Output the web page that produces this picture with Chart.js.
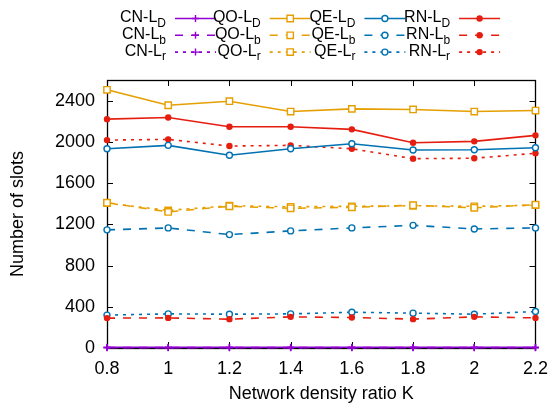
<!DOCTYPE html>
<html>
<head>
<meta charset="utf-8">
<script src="https://cdn.jsdelivr.net/npm/chart.js@4.4.1/dist/chart.umd.min.js"></script>
<style>
  body { margin: 0; background: #fff; }
  #wrap { width: 558px; height: 405px; }
</style>
</head>
<body>
<div id="wrap"><canvas id="slotsChart" width="558" height="405"></canvas></div>
<script>
// network density ratio K
const densityK = [0.8, 1, 1.2, 1.4, 1.6, 1.8, 2, 2.2];
const xTicks = [0.8, 1, 1.2, 1.4, 1.6, 1.8, 2, 2.2];
const yTicks = [0, 400, 800, 1200, 1600, 2000, 2400];

// number of slots, per algorithm and per L type
const cnLD = [8, 8, 8, 8, 8, 8, 8, 8];
const qoLD = [2505, 2355, 2394, 2294, 2320, 2314, 2294, 2304];
const qeLD = [1933, 1966, 1870, 1933, 1982, 1921, 1924, 1943];
const rnLD = [2220, 2236, 2146, 2146, 2121, 1991, 2005, 2063];

const cnLb = [4, 4, 4, 4, 4, 4, 4, 4];
const qoLb = [1410, 1320, 1375, 1355, 1365, 1385, 1360, 1390];
const qeLb = [1146, 1165, 1100, 1136, 1165, 1190, 1155, 1165];
const rnLb = [290, 292, 280, 302, 296, 280, 302, 292];

const cnLr = [3, 3, 3, 3, 3, 3, 3, 3];
const qoLr = [1405, 1335, 1380, 1370, 1375, 1380, 1375, 1385];
const qeLr = [319, 331, 328, 331, 347, 338, 328, 354];
const rnLr = [2017, 2024, 1959, 1966, 1933, 1837, 1841, 1889];

const algos = ['CN', 'QO', 'QE', 'RN'];
const kinds = ['D', 'b', 'r'];
const colors = { CN: '#9400d3', QO: '#e69f00', QE: '#0072b2', RN: '#e51e10' };
const dashes = { D: [], b: [8, 8], r: [3, 5] };
const seriesData = {
  CN: { D: cnLD, b: cnLb, r: cnLr },
  QO: { D: qoLD, b: qoLb, r: qoLr },
  QE: { D: qeLD, b: qeLb, r: qeLr },
  RN: { D: rnLD, b: rnLb, r: rnLr }
};

const pointLook = {
  CN: { style: 'cross', radius: 3.5, fill: '#9400d3' },
  QO: { style: 'rect', radius: 4.5, fill: '#fff' },
  QE: { style: 'circle', radius: 3, fill: '#fff' },
  RN: { style: 'circle', radius: 2.5, fill: '#e51e10' }
};

const datasets = [];
kinds.forEach(kind => {
  algos.forEach(algo => {
    const look = pointLook[algo];
    datasets.push({
      label: algo + '-L' + kind,
      algo: algo,
      kind: kind,
      data: densityK.map((k, i) => ({ x: k, y: seriesData[algo][kind][i] })),
      borderColor: colors[algo],
      backgroundColor: look.fill,
      borderWidth: 1.6,
      borderDash: dashes[kind],
      pointStyle: look.style,
      pointRadius: look.radius,
      pointBorderWidth: 1.4,
      pointBorderColor: colors[algo],
      pointBackgroundColor: look.fill,
      tension: 0,
      clip: false
    });
  });
});

// gnuplot like frame with inward ticks
const framePlugin = {
  id: 'frame',
  beforeDatasetsDraw(chart) {
    const { ctx, chartArea: a, scales } = chart;
    ctx.save();
    ctx.strokeStyle = '#000';
    ctx.lineWidth = 1;
    ctx.beginPath();
    xTicks.forEach(v => {
      const px = Math.round(scales.x.getPixelForValue(v)) + 0.5;
      ctx.moveTo(px, a.bottom); ctx.lineTo(px, a.bottom - 6);
      ctx.moveTo(px, a.top); ctx.lineTo(px, a.top + 6);
    });
    yTicks.forEach(v => {
      const py = Math.round(scales.y.getPixelForValue(v)) + 0.5;
      ctx.moveTo(a.left, py); ctx.lineTo(a.left + 6, py);
      ctx.moveTo(a.right, py); ctx.lineTo(a.right - 6, py);
    });
    ctx.stroke();
    ctx.lineWidth = 1.3;
    ctx.strokeRect(Math.round(a.left) + 0.5, Math.round(a.top) + 0.5,
      Math.round(a.right - a.left), Math.round(a.bottom - a.top));
    ctx.restore();
  }
};

const drawMarker = (ctx, algo, x, y) => {
  const look = pointLook[algo];
  ctx.save();
  ctx.setLineDash([]);
  ctx.strokeStyle = colors[algo];
  ctx.fillStyle = look.fill;
  ctx.lineWidth = 1.4;
  ctx.beginPath();
  if (look.style === 'cross') {
    ctx.moveTo(x - look.radius, y); ctx.lineTo(x + look.radius, y);
    ctx.moveTo(x, y - look.radius); ctx.lineTo(x, y + look.radius);
    ctx.stroke();
  } else if (look.style === 'rect') {
    const s = look.radius * Math.SQRT1_2;
    ctx.rect(x - s, y - s, 2 * s, 2 * s);
    ctx.fill(); ctx.stroke();
  } else {
    ctx.arc(x, y, look.radius, 0, Math.PI * 2);
    ctx.fill(); ctx.stroke();
  }
  ctx.restore();
};

// legend: text then line sample, 4 columns x 3 rows
const legendPlugin = {
  id: 'keyBox',
  afterDraw(chart) {
    const ctx = chart.ctx;
    ctx.save();
    chart.data.datasets.forEach((ds, i) => {
      const col = i % 4;
      const row = Math.floor(i / 4);
      const right = 166 + col * 94.7;
      const y = 18.5 + row * 16.8;
      const base = ds.algo + '-L';
      ctx.font = '12px "Liberation Sans", Arial, sans-serif';
      const subW = ctx.measureText(ds.kind).width;
      ctx.font = '16px "Liberation Sans", Arial, sans-serif';
      ctx.fillStyle = '#000';
      ctx.textBaseline = 'middle';
      ctx.textAlign = 'right';
      ctx.fillText(base, right - subW, y - 1);
      ctx.font = '12px "Liberation Sans", Arial, sans-serif';
      ctx.textAlign = 'left';
      ctx.fillText(ds.kind, right - subW, y + 5);

      const x0 = right + 9;
      const x1 = x0 + 41;
      ctx.strokeStyle = ds.borderColor;
      ctx.lineWidth = 1.6;
      ctx.setLineDash(ds.borderDash);
      ctx.beginPath();
      ctx.moveTo(x0, y); ctx.lineTo(x1, y);
      ctx.stroke();
      drawMarker(ctx, ds.algo, (x0 + x1) / 2, y);
    });
    ctx.restore();
  }
};

const tickFont = { family: '"Liberation Sans", Arial, sans-serif', size: 18 };

new Chart(document.getElementById('slotsChart'), {
  type: 'line',
  data: { datasets: datasets },
  plugins: [framePlugin, legendPlugin],
  options: {
    responsive: false,
    animation: false,
    layout: { padding: { top: 80, right: 15, left: 0, bottom: 0 } },
    plugins: { legend: { display: false }, tooltip: { enabled: false } },
    scales: {
      x: {
        type: 'linear',
        min: 0.8,
        max: 2.2,
        afterBuildTicks: scale => { scale.ticks = xTicks.map(v => ({ value: v })); },
        afterFit: scale => { scale.height = 57; },
        grid: { display: false, drawTicks: false },
        border: { display: false },
        ticks: {
          color: '#000',
          font: tickFont,
          padding: 10,
          maxRotation: 0,
          autoSkip: false,
          callback: v => String(v)
        },
        title: {
          display: true,
          text: 'Network density ratio K',
          color: '#000',
          font: tickFont,
          padding: { top: 12, bottom: 0 }
        }
      },
      y: {
        type: 'linear',
        min: 0,
        max: 2600,
        afterBuildTicks: scale => { scale.ticks = yTicks.map(v => ({ value: v })); },
        afterFit: scale => { scale.width = 107; },
        grid: { display: false, drawTicks: false },
        border: { display: false },
        ticks: {
          color: '#000',
          font: tickFont,
          padding: 12,
          autoSkip: false,
          callback: v => String(v)
        },
        title: {
          display: true,
          text: 'Number of slots',
          color: '#000',
          font: tickFont,
          padding: { top: 7, bottom: 0 }
        }
      }
    }
  }
});
</script>
</body>
</html>
